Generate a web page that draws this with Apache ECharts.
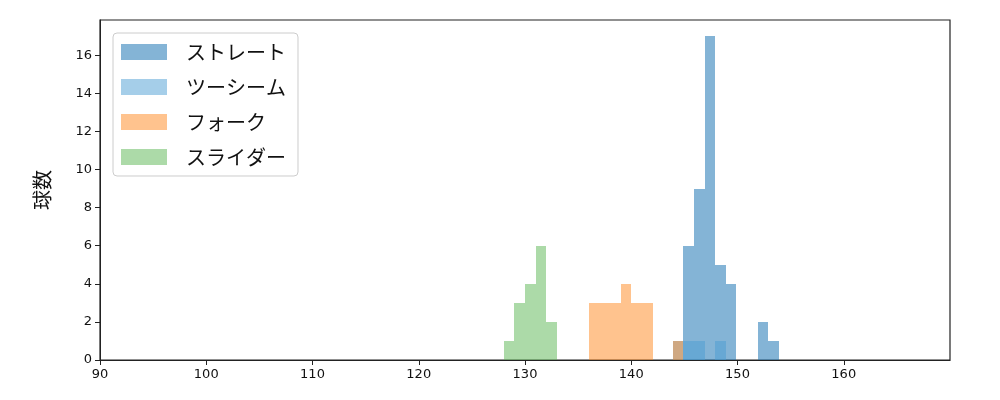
<!DOCTYPE html><html><head><meta charset="utf-8"><script src="https://cdn.jsdelivr.net/npm/echarts@6/dist/echarts.min.js"></script></head><body style="margin:0"><div id="c" style="width:1000px;height:400px"></div><script>
const names=['ストレート','ツーシーム','フォーク','スライダー'];
const straightEdges=[144.9,145.9,146.9,147.9,148.9,151.9,152.9];
const straightCounts=[6,9,17,5,4,2,1];
const twoEdges=[143.9,144.9,145.9,147.9];
const twoCounts=[1,1,1,1];
const forkEdges=[136,137,138,139,140,141,143.9];
const forkCounts=[3,3,3,4,3,3,1];
const sliderEdges=[128,129,130,131,132];
const sliderCounts=[1,3,4,6,2];
const binW=1;
const colors=['rgba(31,119,180,0.55)','rgba(76,158,211,0.5)','rgba(255,127,14,0.47)','rgba(90,181,82,0.5)'];
function ser(i,edges,counts){return {name:names[i],type:'custom',itemStyle:{color:colors[i]},
 data:edges.map((e,k)=>[e,counts[k]]),
 renderItem:function(p,api){const a=api.coord([api.value(0),0]),b=api.coord([api.value(0)+binW,api.value(1)]);
  const x0=Math.round(a[0]),x1=Math.round(b[0]),y1=Math.round(b[1]);
  return {type:'rect',shape:{x:x0,y:y1,width:x1-x0,height:a[1]-y1},style:{fill:colors[i]}};}};}
const ch=echarts.init(document.getElementById('c'));
ch.setOption({animation:false,
 grid:{left:100,right:50,top:20,bottom:40,show:true,borderColor:'#222',borderWidth:1.2,backgroundColor:'transparent'},
 legend:{orient:'vertical',left:113,top:33,itemWidth:46,itemHeight:16,itemGap:15,padding:[9,12,9,8],
  textStyle:{fontSize:20,color:'#111',fontFamily:'Noto Sans CJK JP',padding:[0,0,0,14]},borderColor:'#ccc',borderWidth:1,borderRadius:4,backgroundColor:'rgba(255,255,255,0.8)',
  data:names.map((n,i)=>({name:n,icon:'rect',itemStyle:{color:colors[i]}}))},
 xAxis:{type:'value',min:90,max:170,interval:10,splitLine:{show:false},axisLine:{lineStyle:{color:'#222'}},axisTick:{lineStyle:{color:'#222'}},axisLabel:{color:'#111',fontSize:13,fontFamily:'DejaVu Sans',showMaxLabel:false}},
 yAxis:{type:'value',min:0,max:17.85,interval:2,name:'球数',nameLocation:'middle',nameGap:48,nameTextStyle:{fontSize:20,color:'#111',fontFamily:'Noto Sans CJK JP'},splitLine:{show:false},axisLine:{show:true,lineStyle:{color:'#222'}},axisTick:{show:true,lineStyle:{color:'#222'}},axisLabel:{color:'#111',fontSize:13,fontFamily:'DejaVu Sans',showMaxLabel:false}},
 series:[ser(0,straightEdges,straightCounts),ser(1,twoEdges,twoCounts),ser(2,forkEdges,forkCounts),ser(3,sliderEdges,sliderCounts)]});
</script></body></html>
